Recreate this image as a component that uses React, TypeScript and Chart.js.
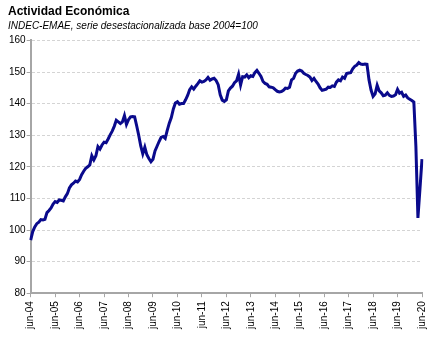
import React, { useEffect, useRef } from "react";
import { Chart, registerables } from "chart.js";

Chart.register(...registerables);

const titleText = "Actividad Económica";
const subtitleText = "INDEC-EMAE, serie desestacionalizada base 2004=100";

const monthNames = ["ene", "feb", "mar", "abr", "may", "jun", "jul", "ago", "sep", "oct", "nov", "dic"];
const tickLabels = [
  "jun-04", "jun-05", "jun-06", "jun-07", "jun-08", "jun-09", "jun-10", "jun-11", "jun-12",
  "jun-13", "jun-14", "jun-15", "jun-16", "jun-17", "jun-18", "jun-19", "jun-20",
];

// monthly values, jun-2004 .. jun-2020
const emae2004 = [96.8, 99.5, 101, 102, 102.5, 103.3, 103.2];
const emae2005 = [103.4, 105.5, 106.2, 107, 108.2, 109, 108.7, 109.5, 109.4, 109.2, 110.5, 111.5];
const emae2006 = [113.3, 114.3, 114.8, 115.5, 115.2, 116, 117.5, 118.6, 119.5, 120, 120.6, 123.5];
const emae2007 = [122.2, 123.5, 126.4, 125.6, 126.9, 127.8, 127.6, 128.8, 130.1, 131.3, 132.8, 134.7];
const emae2008 = [134.2, 133.7, 134.2, 136.2, 133.4, 134.9, 135.8, 135.9, 135.8, 133, 130, 126.6];
const emae2009 = [124.1, 126.2, 123.8, 122.6, 121.6, 122.4, 125, 126.5, 128, 129.3, 129.6, 129];
const emae2010 = [131.5, 133.8, 135.6, 138.3, 140.2, 140.6, 139.8, 140, 140, 141.2, 142.6, 144.4];
const emae2011 = [145.3, 144.6, 145.5, 146.3, 147.2, 146.8, 147, 147.5, 148.3, 147.4, 147.8, 148];
const emae2012 = [147.3, 146, 142.8, 141.1, 140.7, 141.2, 144, 144.9, 145.5, 146.6, 147.2, 149.3];
const emae2013 = [145.9, 148.5, 148.4, 149.1, 148.2, 148.8, 148.6, 149.8, 150.5, 149.6, 148.6, 147];
const emae2014 = [146.4, 146.1, 145.3, 145.2, 145, 144.4, 143.9, 143.7, 143.8, 144.2, 144.9, 144.8];
const emae2015 = [145.2, 147.5, 148, 149.6, 150.3, 150.6, 150.3, 149.6, 149.2, 148.9, 148.4, 147.3];
const emae2016 = [148, 147, 146.2, 145, 144.2, 144.4, 144.6, 145.2, 145.1, 145.6, 145.4, 146.8];
const emae2017 = [147.5, 147.2, 148.4, 148, 149.5, 149.7, 149.8, 151, 151.8, 152.2, 153, 152.5];
const emae2018 = [152.4, 152.5, 152.4, 147.5, 144.3, 142.3, 143.1, 145.8, 144, 143.4, 142.5, 142.7];
const emae2019 = [143.4, 142.6, 142.3, 142.4, 142.8, 144.5, 143.3, 143.6, 142.3, 142.7, 141.8, 141.4];
const emae2020 = [141, 140.5, 126.5, 103.8, 113, 122.4];

const emae = [
  ...emae2004, ...emae2005, ...emae2006, ...emae2007, ...emae2008, ...emae2009,
  ...emae2010, ...emae2011, ...emae2012, ...emae2013, ...emae2014, ...emae2015,
  ...emae2016, ...emae2017, ...emae2018, ...emae2019, ...emae2020,
];

const startYear = 2004;
const startMonth = 5; // jun
const monthLabels = emae.map((_, i) => {
  const m = (startMonth + i) % 12;
  const y = startYear + Math.floor((startMonth + i) / 12);
  return monthNames[m] + "-" + String(y % 100).padStart(2, "0");
});

const FONT = "'Liberation Sans', Arial, sans-serif";

export default function App() {
  const ref = useRef<HTMLCanvasElement | null>(null);

  useEffect(() => {
    if (!ref.current) return;
    const chart = new Chart(ref.current, {
      type: "line",
      data: {
        labels: monthLabels,
        datasets: [
          {
            data: emae,
            borderColor: "#0a0a8c",
            borderWidth: 3,
            pointRadius: 0,
            tension: 0,
            fill: false,
          },
        ],
      },
      options: {
        animation: false,
        responsive: false,
        layout: { padding: { left: 8, right: 20, top: 0, bottom: 9 } },
        plugins: {
          legend: { display: false },
          tooltip: { enabled: false },
          title: {
            display: true,
            text: titleText,
            align: "start",
            color: "#000",
            font: { family: FONT, size: 12, weight: "bold" },
            padding: { top: 4, bottom: 0 },
          },
          subtitle: {
            display: true,
            text: subtitleText,
            align: "start",
            color: "#000",
            font: { family: FONT, size: 10, style: "italic" },
            padding: { top: 2, bottom: 8 },
          },
        },
        scales: {
          x: {
            type: "category",
            offset: false,
            grid: {
              display: true,
              drawOnChartArea: false,
              drawTicks: true,
              tickLength: 4,
              color: "#a6a6a6",
            },
            border: { display: true, color: "#a6a6a6", width: 2 },
            ticks: {
              autoSkip: false,
              maxRotation: 90,
              minRotation: 90,
              padding: 4,
              color: "#000",
              font: { family: FONT, size: 10 },
              callback: (_v: any, index: number) =>
                index % 12 === 0 ? tickLabels[index / 12] : null,
            },
          },
          y: {
            min: 80,
            max: 160,
            grid: {
              color: "#d4d4d4",
              tickLength: 4,
              tickColor: "#a6a6a6",
            },
            border: { display: true, color: "#a6a6a6", width: 2, dash: [3, 2] },
            ticks: {
              stepSize: 10,
              padding: 1,
              color: "#000",
              font: { family: FONT, size: 10 },
            },
          },
        },
      },
    });
    return () => chart.destroy();
  }, []);

  return (
    <div style={{ position: "absolute", left: 0, top: 0, width: 442, height: 342 }}>
      <canvas ref={ref} width={442} height={342} style={{ display: "block" }} />
    </div>
  );
}
